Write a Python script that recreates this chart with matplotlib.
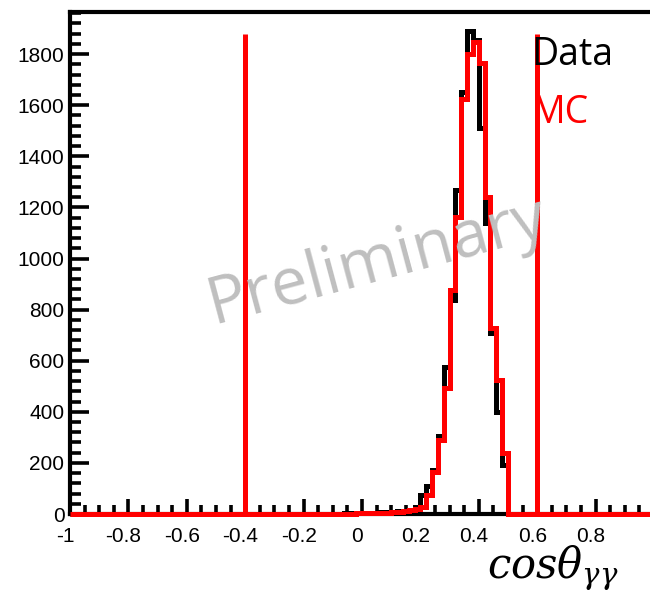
import numpy as np
import matplotlib
matplotlib.use("Agg")
import matplotlib.pyplot as plt
import matplotlib.transforms as mtransforms
from matplotlib.ticker import MultipleLocator

# histogram binning: 100 bins from -1 to 1
bin_lo, bin_hi, n_bins = -1.0, 1.0, 100

# Data counts per bin (bins 0..99)
data_counts = [
    0, 0, 0, 0, 0, 0, 0, 0, 0, 0,
    0, 0, 0, 0, 0, 0, 0, 0, 0, 0,
    0, 0, 0, 0, 0, 0, 0, 0, 0, 0,
    0, 0, 0, 0, 0, 0, 0, 0, 0, 0,
    0, 0, 0, 0, 0, 1, 1, 2, 2, 3,
    3, 4, 5, 6, 7, 9, 11, 13, 16, 27,
    75, 110, 172, 306, 576, 839, 1270, 1650, 1891, 1856,
    1510, 1141, 710, 400, 192, 0, 0, 0, 0, 0,
    0, 0, 0, 0, 0, 0, 0, 0, 0, 0,
    0, 0, 0, 0, 0, 0, 0, 0, 0, 0,
]

# MC counts per bin
mc_counts = [
    0, 0, 0, 0, 0, 0, 0, 0, 0, 0,
    0, 0, 0, 0, 0, 0, 0, 0, 0, 0,
    0, 0, 0, 0, 0, 0, 0, 0, 0, 0,
    0, 0, 0, 0, 0, 0, 0, 0, 0, 0,
    0, 0, 0, 0, 0, 0, 1, 1, 1, 2,
    2, 3, 3, 4, 5, 6, 8, 10, 14, 18,
    27, 75, 165, 290, 494, 878, 1161, 1624, 1800, 1848,
    1767, 1239, 729, 525, 239, 0, 0, 0, 0, 0,
    0, 0, 0, 0, 0, 0, 0, 0, 0, 0,
    0, 0, 0, 0, 0, 0, 0, 0, 0, 0,
]

# selection cut lines
cut_positions = [-0.4, 0.6]
cut_height = 1880

x_ticks = [-1, -0.8, -0.6, -0.4, -0.2, 0, 0.2, 0.4, 0.6, 0.8]
x_tick_labels = ["-1", "-0.8", "-0.6", "-0.4", "-0.2", "0", "0.2", "0.4", "0.6", "0.8"]
y_ticks = [0, 200, 400, 600, 800, 1000, 1200, 1400, 1600, 1800]

edges = np.linspace(bin_lo, bin_hi, n_bins + 1)

plt.rcParams["mathtext.fontset"] = "dejavuserif"

fig = plt.figure(figsize=(6.5, 5.93), dpi=100)
ax = fig.add_axes([70 / 650, 79 / 593, 580 / 650, 502 / 593])

ax.stairs(data_counts, edges, color="black", linewidth=3.6, zorder=3, clip_on=False)
ax.stairs(mc_counts, edges, color="red", linewidth=3.6, zorder=4, clip_on=False)
for xc in cut_positions:
    ax.plot([xc, xc], [0, cut_height], color="red", linewidth=3.6, zorder=4,
            solid_capstyle="butt")

ax.set_xlim(-1, -1 + 580 / 292)
ax.set_ylim(0, 1965)

ax.spines["right"].set_visible(False)
for s in ["left", "top", "bottom"]:
    ax.spines[s].set_linewidth(3)

ax.set_xticks(x_ticks)
ax.set_xticklabels(x_tick_labels)
ax.set_yticks(y_ticks)
ax.xaxis.set_minor_locator(MultipleLocator(0.05))
ax.yaxis.set_minor_locator(MultipleLocator(40))
ax.tick_params(axis="both", which="both", direction="in", width=2.6, colors="black")
ax.tick_params(axis="x", which="major", length=11, pad=9)
ax.tick_params(axis="x", which="minor", length=6.5)
ax.tick_params(axis="y", which="major", length=13.5, pad=4)
ax.tick_params(axis="y", which="minor", length=8)
shift = mtransforms.ScaledTranslation(-5 / 100, 0, fig.dpi_scale_trans)
for lab in ax.get_xticklabels():
    lab.set_transform(lab.get_transform() + shift)
for lab in ax.get_xticklabels() + ax.get_yticklabels():
    lab.set_fontfamily("Liberation Sans")
    lab.set_fontsize(15)

# legend-like labels
fig.text(531 / 650, 1 - 65 / 593, "Data", color="black", fontsize=27,
         family="Open Sans", ha="left", va="baseline")
fig.text(531 / 650, 1 - 123 / 593, "MC", color="red", fontsize=27,
         family="Open Sans", ha="left", va="baseline")

# watermark
fig.text(377 / 650, 1 - 262 / 593, "Preliminary", color="#bfbfbf", fontsize=47,
         family="Open Sans", rotation=15, ha="center", va="center", zorder=0)

# axis title
fig.text(487 / 650, 1 - 578 / 593, r"$cos\theta_{\gamma\gamma}$", fontsize=30,
         ha="left", va="baseline")

fig.savefig("out.png", dpi=100)
